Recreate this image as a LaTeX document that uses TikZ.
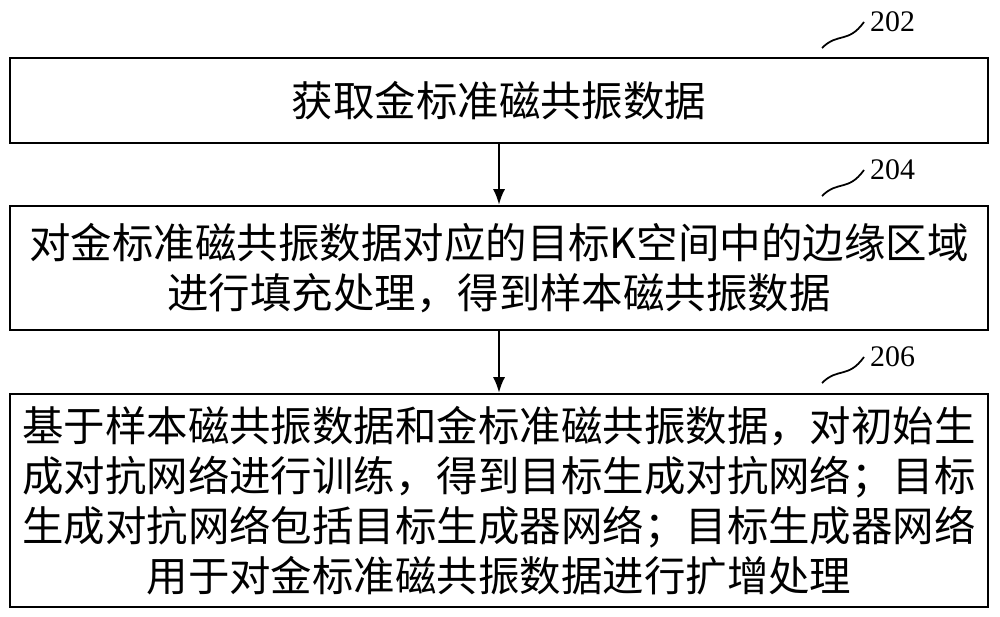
\documentclass[tikz,border=0pt]{standalone}
\usepackage{fontspec}
\newfontfamily\cjk{Noto Sans CJK SC}
\setmainfont{Liberation Serif}
\usetikzlibrary{arrows.meta}
\begin{document}
\begin{tikzpicture}[x=0.02cm,y=-0.02cm,
  stepbox/.style={draw,line width=1.3pt,minimum width=19.56cm,align=center,
    font=\cjk\fontsize{23.6}{28.5}\selectfont,inner sep=0pt},
  arrow/.style={-{Latex[length=9pt,width=7pt]},line width=1.4pt},
  tag/.style={font=\fontsize{17}{17}\selectfont,anchor=west}]
\useasboundingbox (0,0) rectangle (1000,616);
% boxes
\node[stepbox,minimum height=1.7cm] (s202) at (499,100.5) {获取金标准磁共振数据};
\node[stepbox,minimum height=2.48cm] (s204) at (499,268) {对金标准磁共振数据对应的目标K空间中的边缘区域\\进行填充处理，得到样本磁共振数据};
\node[stepbox,minimum height=4.26cm] (s206) at (499,500.5) {基于样本磁共振数据和金标准磁共振数据，对初始生\\成对抗网络进行训练，得到目标生成对抗网络；目标\\生成对抗网络包括目标生成器网络；目标生成器网络\\用于对金标准磁共振数据进行扩增处理};
% arrows
\draw[arrow] (s202) -- (s204);
\draw[arrow] (s204) -- (s206);
% step labels
\foreach \n/\y in {202/22,204/170,206/357}{
  \node[tag] (t\n) at (864,\y) {\n};
  \draw[line width=1pt] (822,\y+26) .. controls (838,\y+10) and (848,\y+22) .. (t\n.west);
}
\end{tikzpicture}
\end{document}
